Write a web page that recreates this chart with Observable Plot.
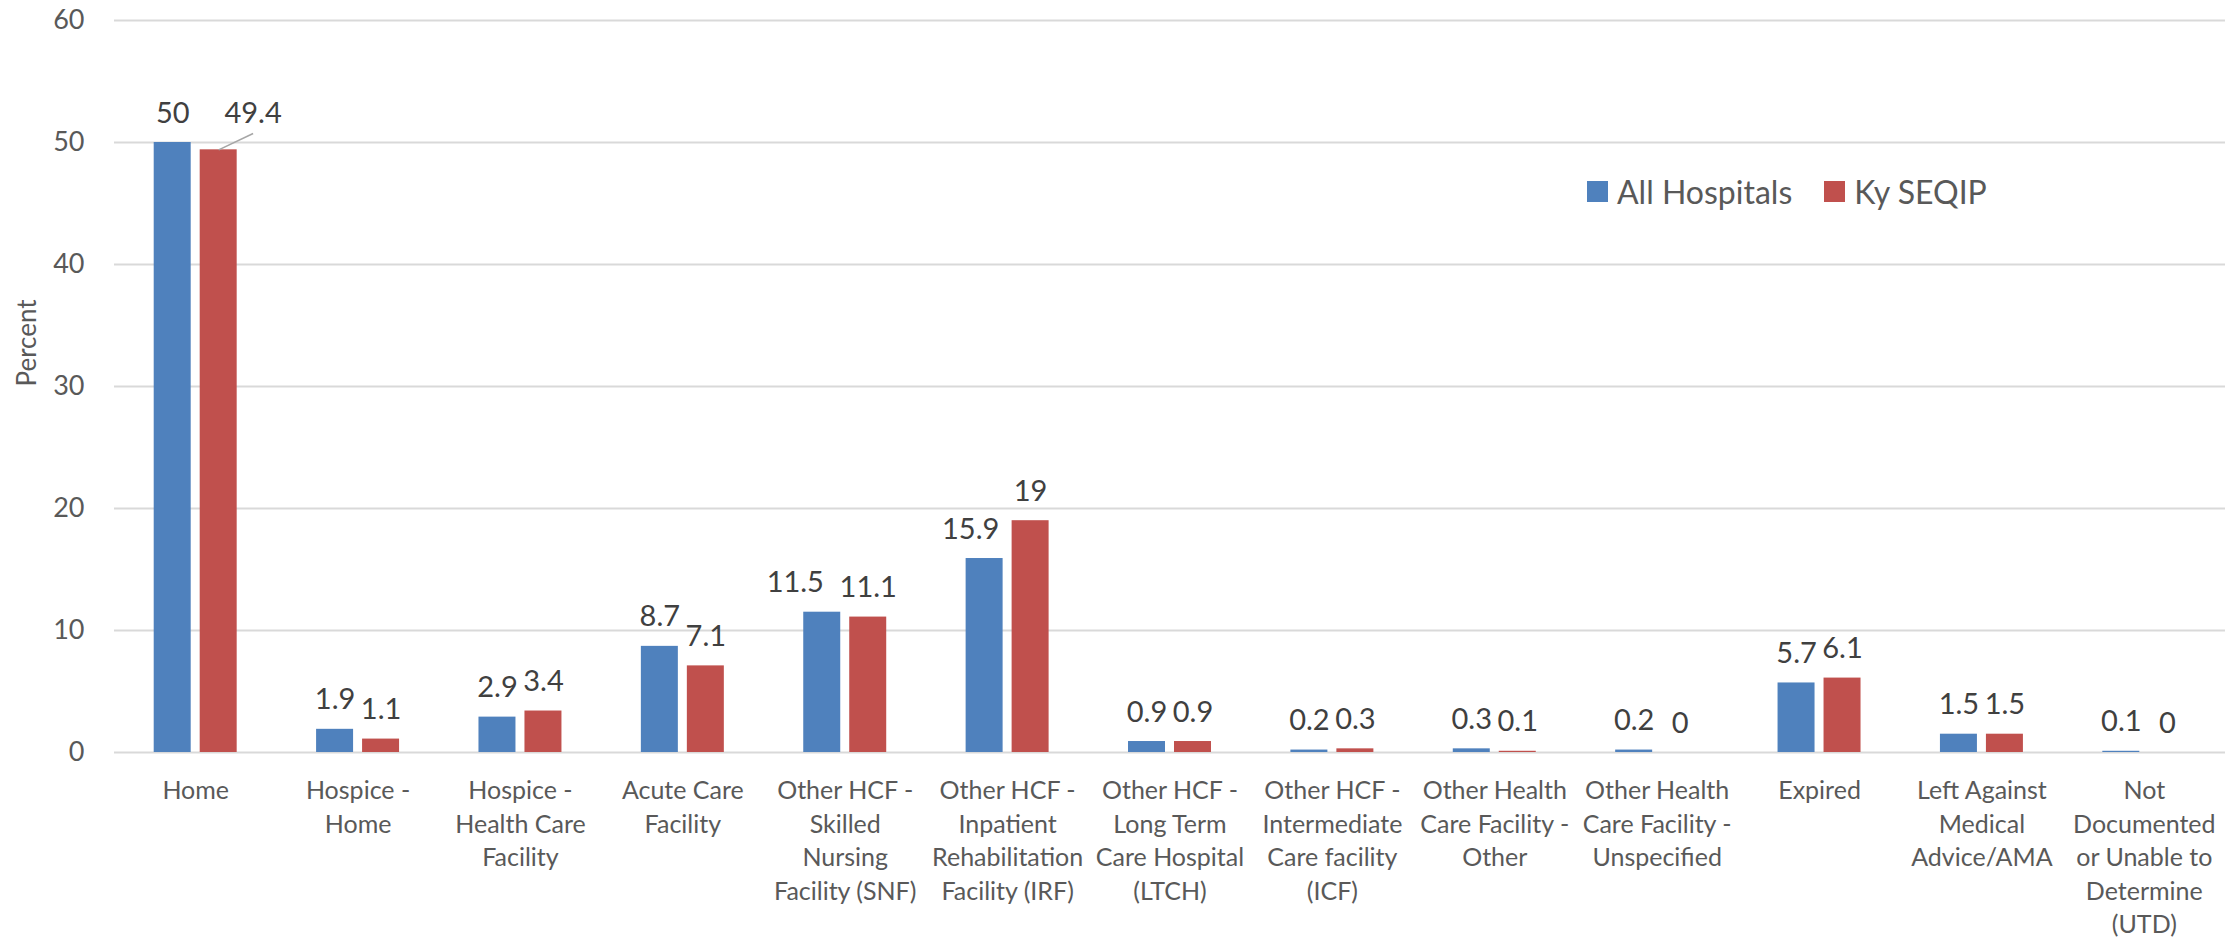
<!DOCTYPE html>
<html>
<head>
<meta charset="utf-8">
<script src="https://cdn.jsdelivr.net/npm/d3@7"></script>
<script src="https://cdn.jsdelivr.net/npm/@observablehq/plot@0.6"></script>
<style>
  html, body { margin: 0; padding: 0; background: #fff; }
  #wrap { position: relative; width: 2236px; height: 939px; font-family: Lato, "Open Sans", sans-serif; }
  #legend { position: absolute; left: 1587px; top: 172px; display: flex; align-items: center; font-size: 32px; color: #595959; }
  #legend .item { display: flex; align-items: center; margin-right: 32px; }
  #legend .sw { width: 21px; height: 21px; margin-right: 9px; }
</style>
</head>
<body>
<div id="wrap"></div>
<script>
// ---- data ----
const categories = [
  "Home",
  "Hospice -\nHome",
  "Hospice -\nHealth Care\nFacility",
  "Acute Care\nFacility",
  "Other HCF -\nSkilled\nNursing\nFacility (SNF)",
  "Other HCF -\nInpatient\nRehabilitation\nFacility (IRF)",
  "Other HCF -\nLong Term\nCare Hospital\n(LTCH)",
  "Other HCF -\nIntermediate\nCare facility\n(ICF)",
  "Other Health\nCare Facility -\nOther",
  "Other Health\nCare Facility -\nUnspecified",
  "Expired",
  "Left Against\nMedical\nAdvice/AMA",
  "Not\nDocumented\nor Unable to\nDetermine\n(UTD)"
];
const seriesNames = ["All Hospitals", "Ky SEQIP"];
const allHospitals = [50, 1.9, 2.9, 8.7, 11.5, 15.9, 0.9, 0.2, 0.3, 0.2, 5.7, 1.5, 0.1];
const kySeqip      = [49.4, 1.1, 3.4, 7.1, 11.1, 19, 0.9, 0.3, 0.1, 0, 6.1, 1.5, 0];
const seriesColors = ["#4f81bd", "#c0504d"];
const yTicks = [0, 10, 20, 30, 40, 50, 60];
// label for Ky SEQIP "Home" moved up beside its bar with a leader line
const movedLabel = {category: 0, series: 1, labelValue: 50, leaderEndValue: 50.74, shift: 0.212};
// horizontal nudges (band units) of a few "All Hospitals" labels, as in the original
const allLabelNudge = [0, 0, 0, 0, -0.166, -0.086, 0, 0, 0, 0, 0, 0, 0];

// ---- build table ----
const seriesValues = [allHospitals, kySeqip];
const rows = [];
seriesValues.forEach((vals, s) => vals.forEach((v, i) => rows.push({i, s, series: seriesNames[s], value: v})));

// layout within a category band (band units)
const half = 0.1139, centerOff = 0.1416;
const cx = d => d.i + (d.s === 0 ? -centerOff : centerOff);
const moved = d => d.i === movedLabel.category && d.s === movedLabel.series;
const labelX = d => moved(d) ? cx(d) + movedLabel.shift : cx(d) + (d.s === 0 ? allLabelNudge[d.i] : 0);

const plot = Plot.plot({
  width: 2236,
  height: 939,
  marginLeft: 114,
  marginRight: 11,
  marginTop: 20,
  marginBottom: 187,
  style: {fontFamily: "Lato, 'Open Sans', sans-serif", background: "#fff"},
  x: {domain: [-0.5, categories.length - 0.5], axis: null},
  y: {domain: [0, 60], axis: null},
  color: {domain: seriesNames, range: seriesColors},
  marks: [
    Plot.ruleY(yTicks, {stroke: "#d9d9d9", strokeWidth: 2}),
    Plot.axisY({ticks: yTicks, tickSize: 0, tickPadding: 30, fontSize: 27, color: "#595959", label: null}),
    Plot.text(["Percent"], {frameAnchor: "left", rotate: -90, dx: -87, fontSize: 26, fill: "#595959"}),
    Plot.rectY(rows, {x1: d => cx(d) - half, x2: d => cx(d) + half, y: "value", fill: "series"}),
    Plot.text(rows, {
      x: labelX,
      y: d => moved(d) ? movedLabel.labelValue : d.value,
      text: d => String(d.value),
      dy: -20, lineAnchor: "bottom", fontSize: 29, fill: "#404040"
    }),
    Plot.link(rows.filter(moved), {
      x1: d => cx(d), y1: "value",
      x2: d => cx(d) + movedLabel.shift, y2: () => movedLabel.leaderEndValue,
      stroke: "#a6a6a6", strokeWidth: 1.5
    }),
    Plot.text(categories, {
      x: (d, i) => i, frameAnchor: "bottom", text: d => d,
      lineAnchor: "top", lineHeight: 1.34, dy: 23, fontSize: 25, fill: "#595959"
    })
  ]
});

const wrap = document.getElementById("wrap");
wrap.appendChild(plot);

const legend = document.createElement("div");
legend.id = "legend";
seriesNames.forEach((name, k) => {
  const item = document.createElement("div");
  item.className = "item";
  const sw = document.createElement("div");
  sw.className = "sw";
  sw.style.background = seriesColors[k];
  const t = document.createElement("span");
  t.textContent = name;
  item.appendChild(sw);
  item.appendChild(t);
  legend.appendChild(item);
});
wrap.appendChild(legend);
</script>
</body>
</html>
